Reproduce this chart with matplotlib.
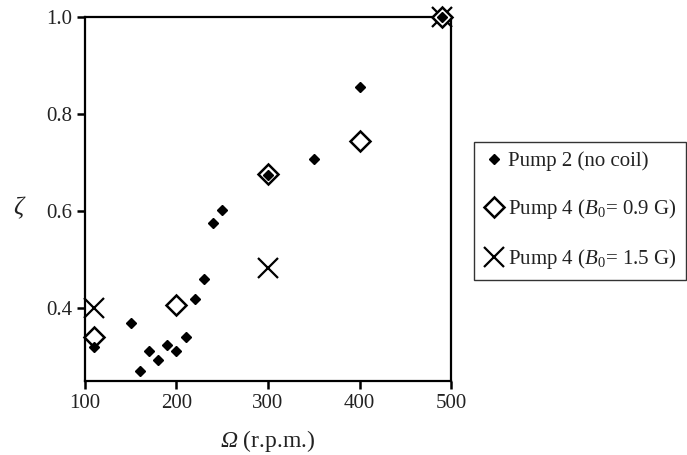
import matplotlib
matplotlib.use("Agg")
import matplotlib.pyplot as plt

plt.rcParams['font.family'] = ['Liberation Serif', 'DejaVu Serif']
plt.rcParams['mathtext.fontset'] = 'custom'
plt.rcParams['mathtext.rm'] = 'Liberation Serif'
plt.rcParams['mathtext.it'] = 'Liberation Serif:italic'
# italic slot for the capital Omega (mathtext keeps Greek capitals upright in \mathit)
plt.rcParams['mathtext.bf'] = 'Liberation Serif:italic'

# Pump 2 (no coil)
p2_x = [110, 150, 160, 170, 180, 190, 200, 210, 220, 230, 240, 250, 300, 350, 400, 490]
p2_y = [0.32, 0.37, 0.27, 0.311, 0.293, 0.324, 0.311, 0.34, 0.42, 0.46, 0.575, 0.602, 0.675, 0.707, 0.856, 1.0]

# Pump 4, B0 = 0.9 G
p4a_x = [110, 200, 300, 400, 490]
p4a_y = [0.34, 0.406, 0.677, 0.744, 1.0]

# Pump 4, B0 = 1.5 G
p4b_x = [110, 300, 490]
p4b_y = [0.40, 0.482, 1.0]

xticks = [100, 200, 300, 400, 500]
yticks = [0.4, 0.6, 0.8, 1.0]

fig = plt.figure(figsize=(6.87, 4.55), dpi=100)
ax = fig.add_axes([0.1237, 0.1626, 0.5328, 0.8])

ax.plot(p4b_x, p4b_y, 'x', color='black', markersize=14, markeredgewidth=1.6,
        clip_on=False, label='Pump 4 ($B_0$= 1.5 G)', zorder=3)
ax.plot(p4a_x, p4a_y, 'D', markerfacecolor='white', markeredgecolor='black',
        markersize=10, markeredgewidth=1.8, clip_on=False,
        label='Pump 4 ($B_0$= 0.9 G)', zorder=4)
ax.plot(p2_x, p2_y, 'D', color='black', markersize=5.5, clip_on=False,
        label='Pump 2 (no coil)', zorder=5)

ax.set_xlim(100, 500)
ax.set_ylim(0.25, 1.0)
ax.set_xticks(xticks)
ax.set_yticks(yticks)
ax.set_yticklabels(['0.4', '0.6', '0.8', '1.0'])
ax.tick_params(direction='out', length=6, width=1.8, labelsize=15,
               labelcolor='#222222', pad=3)
for s in ax.spines.values():
    s.set_linewidth(1.6)

ax.set_xlabel(r'$\mathbf{\Omega}$ (r.p.m.)', fontsize=17, color='#222222')
ax.xaxis.set_label_coords(0.5, -0.13)
ax.set_ylabel(r'$\mathit{\zeta}$', fontsize=18, rotation=0, color='#222222',
              va='center', ha='center')
ax.yaxis.set_label_coords(-0.178, 0.475)

handles, labels = ax.get_legend_handles_labels()
leg = ax.legend(handles[::-1], labels[::-1], loc='upper left',
                bbox_to_anchor=(1.063, 0.657), borderaxespad=0,
                fancybox=False, framealpha=1, edgecolor='#333333',
                fontsize=15, labelspacing=1.25, handletextpad=0.2,
                handlelength=1.0, borderpad=0.45)
leg.get_frame().set_linewidth(1.0)
for t in leg.get_texts():
    t.set_color('#222222')

fig.savefig('out.png', dpi=100)
